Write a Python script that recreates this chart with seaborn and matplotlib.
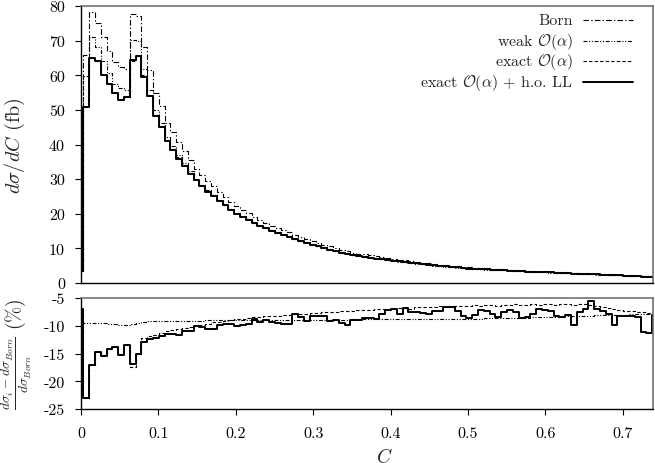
import numpy as np
import pandas as pd
import matplotlib
matplotlib.use("Agg")
import matplotlib.pyplot as plt
import seaborn as sns

# ---------------- data ----------------
first_edge = 0.003          # narrow first bin [0, 0.003]
bin_width = 0.0075
n_bins = 100
edges = [0.0] + [first_edge + bin_width * k for k in range(n_bins + 1)]

born = [3.8, 65.9, 78.4, 75.2, 71.0, 67.0, 63.8, 62.3, 61.9, 77.6,
        77.2, 68.3, 61.5, 55.0, 51.0, 46.3, 43.5, 40.7, 38.0, 35.5,
        33.0, 31.2, 29.5, 28.0, 26.2, 24.8, 23.5, 22.3, 21.2, 20.2,
        19.0, 18.2, 17.4, 16.6, 15.9, 15.3, 14.6, 13.8, 13.3, 12.7,
        12.1, 11.6, 11.1, 10.6, 10.1, 9.65, 9.2, 8.8, 8.5, 8.25,
        7.98, 7.72, 7.47, 7.22, 6.98, 6.75, 6.53, 6.32, 6.1, 5.9,
        5.7, 5.5, 5.32, 5.15, 4.99, 4.84, 4.7, 4.55, 4.45, 4.35,
        4.25, 4.15, 4.06, 3.96, 3.87, 3.78, 3.69, 3.6, 3.52, 3.44,
        3.36, 3.28, 3.2, 3.12, 3.04, 2.96, 2.88, 2.8, 2.72, 2.65,
        2.58, 2.51, 2.44, 2.37, 2.3, 2.23, 2.16, 2.1, 2.04, 1.98, 1.92]

# relative corrections in percent
r_weak = [-9.5, -9.5, -9.5, -9.5, -9.5, -9.6, -9.7, -9.8, -9.8, -9.7,
          -9.5, -9.3, -9.2, -9.2, -9.2, -9.2, -9.1, -9.1, -9.1, -9.1,
          -9.1, -9.1, -9.0, -9.0, -9.0, -9.0, -9.0, -9.0, -9.0, -9.0,
          -9.0, -9.0, -9.0, -9.0, -8.9, -8.9, -8.9, -8.9, -8.9, -8.9,
          -8.9, -8.9, -8.9, -8.9, -8.9, -8.9, -8.9, -8.8, -8.8, -8.8,
          -8.8, -8.8, -8.8, -8.8, -8.8, -8.8, -8.8, -8.8, -8.8, -8.7,
          -8.7, -8.7, -8.7, -8.7, -8.7, -8.7, -8.7, -8.7, -8.7, -8.7,
          -8.6, -8.6, -8.6, -8.6, -8.6, -8.6, -8.6, -8.6, -8.5, -8.5,
          -8.5, -8.5, -8.4, -8.4, -8.3, -8.3, -8.2, -8.2, -8.2, -8.1,
          -8.1, -8.1, -8.0, -8.0, -8.0, -7.9, -7.9, -7.9, -7.8, -7.8, -7.8]
r_exact = [-7.2, -23.0, -17.0, -14.6, -15.3, -14.2, -13.9, -15.0, -13.4, -17.4,
           -15.0, -12.2, -11.9, -11.6, -11.3, -11.0, -10.8, -10.6, -10.4, -10.2,
           -10.0, -9.8, -9.6, -9.4, -9.3, -9.1, -9.0, -8.8, -8.7, -8.6,
           -8.5, -8.4, -8.3, -8.2, -8.2, -8.1, -8.0, -7.9, -7.8, -7.8,
           -7.7, -7.7, -7.6, -7.5, -7.5, -7.4, -7.3, -7.3, -7.2, -7.1,
           -7.2, -7.0, -7.0, -6.9, -6.9, -6.8, -6.8, -6.9, -6.7, -6.7,
           -6.6, -6.7, -6.5, -6.6, -6.5, -6.4, -6.5, -6.4, -6.3, -6.5,
           -6.3, -6.2, -6.4, -6.2, -6.3, -6.1, -6.2, -6.3, -6.1, -6.2,
           -6.0, -6.1, -6.2, -6.0, -6.1, -6.3, -6.0, -6.1, -6.2, -6.5,
           -6.6, -6.8, -7.0, -7.1, -7.3, -7.4, -7.5, -7.6, -7.7, -7.8, -7.8]
r_full = [-7.0, -23.0, -17.0, -14.8, -15.5, -14.2, -13.9, -15.2, -13.4, -16.9,
          -15.0, -12.9, -12.4, -12.2, -11.8, -11.5, -11.4, -11.7, -11.0, -11.0,
          -10.0, -10.2, -10.6, -10.6, -9.8, -9.7, -9.7, -10.0, -9.8, -9.7,
          -8.8, -9.4, -9.0, -9.3, -9.5, -9.6, -9.7, -7.9, -8.5, -9.2,
          -8.2, -8.3, -8.3, -9.1, -8.9, -9.5, -9.8, -9.0, -9.0, -8.6,
          -8.6, -8.7, -7.9, -7.1, -7.0, -7.9, -6.8, -7.6, -7.6, -7.7,
          -7.9, -7.3, -7.4, -6.7, -6.6, -7.3, -8.3, -8.6, -8.0, -7.2,
          -7.3, -7.9, -8.4, -7.5, -7.2, -7.6, -8.6, -8.4, -7.8, -6.9,
          -7.2, -7.4, -8.2, -8.4, -8.0, -9.9, -7.6, -7.0, -5.6, -6.9,
          -7.4, -7.8, -9.9, -8.2, -8.3, -8.2, -8.4, -11.2, -11.3, -8.1, -8.0]

labels = ["Born", r"weak $\mathcal{O}(\alpha)$", r"exact $\mathcal{O}(\alpha)$",
          r"exact $\mathcal{O}(\alpha)$ + h.o. LL"]
top_yticks = [0, 10, 20, 30, 40, 50, 60, 70, 80]
bot_yticks = [-5, -10, -15, -20, -25]
bot_yticklabels = ["-5", "-10", "-15", "-20", "-25"]
xticks = [0, 0.1, 0.2, 0.3, 0.4, 0.5, 0.6, 0.7]
xticklabels = ["0", "0.1", "0.2", "0.3", "0.4", "0.5", "0.6", "0.7"]

# ---------------- style ----------------
sns.set_style("ticks")
plt.rcParams["font.family"] = ["serif"]
plt.rcParams["font.serif"] = ["cmr10", "DejaVu Serif"]
plt.rcParams["mathtext.fontset"] = "cm"
plt.rcParams["axes.unicode_minus"] = False
plt.rcParams["axes.formatter.use_mathtext"] = True

W, H = 655, 464
fig = plt.figure(figsize=(W / 100, H / 100), dpi=100)
ax1 = fig.add_axes([81 / W, 1 - 284 / H, 572 / W, 277 / H])
ax2 = fig.add_axes([81 / W, 1 - 410 / H, 572 / W, 111 / H])

born_a = np.array(born)
weak_v = born_a * (1 + np.array(r_weak) / 100)
exact_v = born_a * (1 + np.array(r_exact) / 100)
full_v = born_a * (1 + np.array(r_full) / 100)

styles = [
    dict(linestyle=(0, (5, 2, 1.2, 2)), lw=0.8),
    dict(linestyle=(0, (3.5, 1.5, 1, 1.5, 1, 1.5)), lw=0.8),
    dict(linestyle=(0, (3, 2)), lw=0.8),
    dict(linestyle="-", lw=1.4),
]

def ext(v):
    v = list(v)
    return v + [v[-1]]

top_series = [born_a, weak_v, exact_v, full_v]
for vals, st in zip(top_series, styles):
    sns.lineplot(x=edges, y=ext(vals), ax=ax1, drawstyle="steps-post", color="black",
                 estimator=None, errorbar=None, sort=False, **st)

for vals, st in zip([r_weak, r_exact, r_full], styles[1:]):
    sns.lineplot(x=edges, y=ext(vals), ax=ax2, drawstyle="steps-post", color="black",
                 estimator=None, errorbar=None, sort=False, **st)

for ax in (ax1, ax2):
    ax.set_xlim(0, 0.739)
    for s in ("top", "right"):
        ax.spines[s].set_visible(True)
        ax.spines[s].set_color("#666666")
        ax.spines[s].set_linewidth(1.1)
    for s in ("left", "bottom"):
        ax.spines[s].set_color("black")
        ax.spines[s].set_linewidth(1.0)
    ax.tick_params(direction="out", length=4.5, width=0.8, labelsize=11.5,
                   top=False, right=False, colors="black")
    ax.tick_params(axis="y", pad=7)
    ax.tick_params(axis="x", pad=8)

ax1.set_ylim(0, 80)
ax1.set_yticks(top_yticks)
ax1.set_yticklabels([str(t) for t in top_yticks])
ax1.set_xticks([])
ax1.set_ylabel(r"$d\sigma/dC$ (fb)", fontsize=14.5)

ax2.set_ylim(-25, -5)
ax2.set_yticks(bot_yticks)
ax2.set_yticklabels(bot_yticklabels)
ax2.set_xticks(xticks)
ax2.set_xticklabels(xticklabels)
ax2.set_ylabel(r"$\frac{d\sigma_i - d\sigma_{Born}}{d\sigma_{Born}}\ (\%)$", fontsize=14)
ax2.set_xlabel(r"$C$", fontsize=14)
ax2.xaxis.set_label_coords(0.53, -0.34)
ax1.yaxis.set_label_coords(-0.095, 0.5)
ax2.yaxis.set_label_coords(-0.082, 0.5)

# gnuplot-style key: right-aligned labels, sample lines to their right
key_y = [0.949, 0.875, 0.801, 0.727]
for lab, st, y in zip(labels, styles, key_y):
    ax1.text(0.860, y, lab, transform=ax1.transAxes, ha="right", va="center",
             fontsize=11.5)
    ax1.plot([0.878, 0.965], [y, y], transform=ax1.transAxes, color="black",
             **st)

fig.savefig("out.png", dpi=100)
